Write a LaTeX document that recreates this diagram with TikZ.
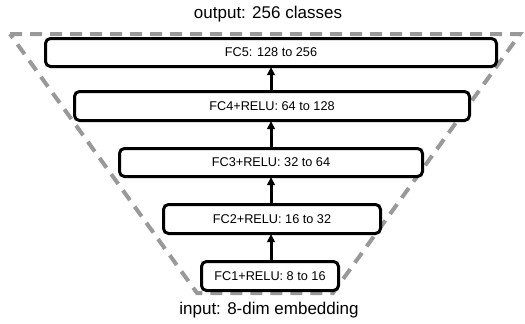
\documentclass[tikz,border=0pt]{standalone}
\usepackage{fontspec}
\setmainfont{Liberation Sans}
\usetikzlibrary{arrows.meta}
\begin{document}
\begin{tikzpicture}[x=1pt,y=-1pt,
  layer/.style={draw=black, line width=3pt, rounded corners=5pt, fill=white,
    inner sep=0pt, font=\fontsize{12.7}{14}\selectfont},
  flow/.style={line width=3pt, -{Triangle[length=8pt,width=7.5pt]}, shorten >=-1pt},
  funnel/.style={draw=black!40, line width=4pt, dash pattern=on 12pt off 8pt},
  caption/.style={font=\fontsize{17}{20}\selectfont, inner sep=0pt}]
\useasboundingbox (0,0) rectangle (525,324);

% funnel outline behind the layers
\draw[funnel] (10,34) -- (520,34) -- (333,293) -- (197,293) -- cycle;

% layer stack
\node[layer, minimum width=451pt, minimum height=28pt] (fc5) at (271,52.5) {FC5: 128 to 256};
\node[layer, minimum width=395pt, minimum height=29pt] (fc4) at (272,106) {FC4+RELU: 64 to 128};
\node[layer, minimum width=303pt, minimum height=28pt] (fc3) at (271,162.5) {FC3+RELU: 32 to 64};
\node[layer, minimum width=217pt, minimum height=29pt] (fc2) at (272,219) {FC2+RELU: 16 to 32};
\node[layer, minimum width=137pt, minimum height=29pt] (fc1) at (270,276) {FC1+RELU: 8 to 16};

% connections between layers
\draw[flow] (fc1.north -| fc3.center) -- (fc2.south -| fc3.center);
\draw[flow] (fc2.north -| fc3.center) -- (fc3.south -| fc3.center);
\draw[flow] (fc3.north) -- (fc4.south -| fc3.center);
\draw[flow] (fc4.north -| fc3.center) -- (fc5.south -| fc3.center);

% captions
\node[caption] (out) at (268,14) {output: 256 classes};
\node[caption] (in) at (269,310) {input: 8-dim embedding};
\end{tikzpicture}
\end{document}
